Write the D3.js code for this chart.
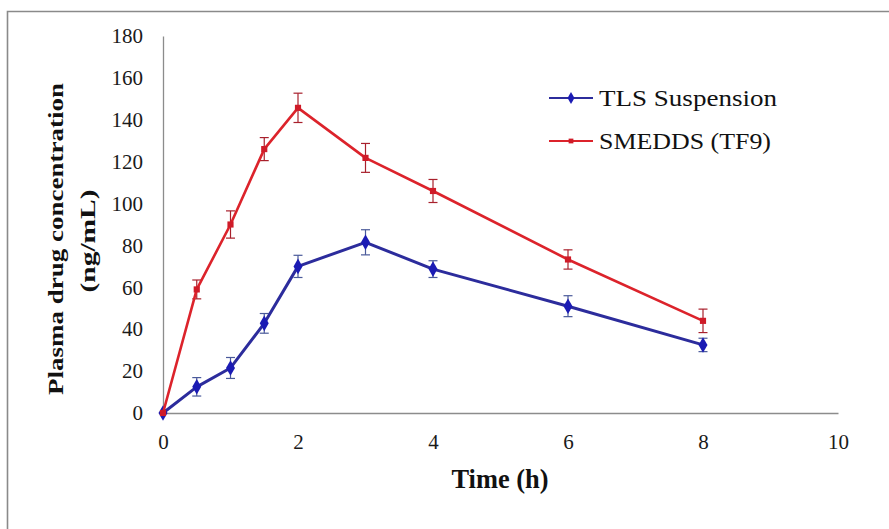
<!doctype html>
<html lang="en">
<head>
<meta charset="utf-8">
<style>
body { margin: 0; background: #fff; }
svg { display: block; font-family: "Liberation Serif", "Times New Roman", Times, serif; }
.axis path { stroke: #8c8c8c; stroke-width: 1.3; }
</style>
<script src="https://d3js.org/d3.v7.min.js"></script>
</head>
<body>
<svg width="889" height="529"></svg>
<script>
// sampling times (h)
const time = [0, 0.5, 1, 1.5, 2, 3, 4, 6, 8];
// plasma concentration (ng/mL)
const tls = [0, 12.5, 21.5, 42.8, 70, 81.5, 68.7, 51, 32.5];
const tlsErr = [0, 4.4, 5, 4.7, 5.3, 6, 4, 5, 3.2];
const smedds = [0, 59, 90, 126, 145.7, 121.8, 106, 73.3, 44];
const smeddsErr = [0, 4.5, 6.5, 5.5, 7, 6.9, 5.5, 4.6, 5.6];
const xTicks = [0, 2, 4, 6, 8, 10];
const yTicks = [0, 20, 40, 60, 80, 100, 120, 140, 160, 180];

const FONT = '"Liberation Serif", "Times New Roman", Times, serif';

const series = [
  { name: 'TLS Suspension', values: tls, err: tlsErr, line: '#2c2c9c', mark: '#1b1bb4', errColor: '#4a5a9a', symbol: d3.symbolDiamond, size: 70, width: 3, textLen: 178 },
  { name: 'SMEDDS (TF9)', values: smedds, err: smeddsErr, line: '#dc232b', mark: '#cf1b28', errColor: '#a8202c', symbol: d3.symbolSquare, size: 38, width: 2.6, textLen: 172 }
];

const svg = d3.select('svg');

// outer frame (top + left edges only visible)
svg.append('path')
  .attr('d', 'M7.5,529 L7.5,11.5 L889,11.5')
  .attr('fill', 'none')
  .attr('stroke', '#8a8a8a')
  .attr('stroke-width', 1.6);

const x = d3.scaleLinear().domain([0, 10]).range([163, 838]);
const y = d3.scaleLinear().domain([0, 180]).range([413, 36]);

const styleTicks = g => g
  .attr('font-family', FONT)
  .attr('font-size', 21)
  .call(gg => gg.selectAll('text').attr('fill', '#1a1a1a'));

svg.append('g')
  .attr('class', 'axis')
  .attr('transform', `translate(0, ${y(0)})`)
  .call(d3.axisBottom(x).tickValues(xTicks).tickSize(0).tickPadding(21).tickFormat(d3.format('d')))
  .call(styleTicks);

svg.append('g')
  .attr('class', 'axis')
  .attr('transform', `translate(${x(0)}, 0)`)
  .call(d3.axisLeft(y).tickValues(yTicks).tickSize(0).tickPadding(20).tickFormat(d3.format('d')))
  .call(styleTicks);

const line = d3.line()
  .x((d, i) => x(time[i]))
  .y(d => y(d));

series.forEach(s => {
  const g = svg.append('g');
  // error bars
  const eb = g.selectAll('.eb')
    .data(s.values.map((v, i) => ({ t: time[i], v: v, e: s.err[i] })).filter(d => d.e > 0))
    .enter().append('g')
    .attr('stroke', s.errColor)
    .attr('stroke-width', 1.2);
  eb.append('line')
    .attr('x1', d => x(d.t)).attr('x2', d => x(d.t))
    .attr('y1', d => y(d.v + d.e)).attr('y2', d => y(d.v - d.e));
  eb.append('line')
    .attr('x1', d => x(d.t) - 4.5).attr('x2', d => x(d.t) + 4.5)
    .attr('y1', d => y(d.v + d.e)).attr('y2', d => y(d.v + d.e));
  eb.append('line')
    .attr('x1', d => x(d.t) - 4.5).attr('x2', d => x(d.t) + 4.5)
    .attr('y1', d => y(d.v - d.e)).attr('y2', d => y(d.v - d.e));

  g.append('path')
    .attr('d', line(s.values))
    .attr('fill', 'none')
    .attr('stroke', s.line)
    .attr('stroke-width', s.width)
    .attr('stroke-linejoin', 'round');

  g.selectAll('.pt')
    .data(s.values)
    .enter().append('path')
    .attr('transform', (d, i) => `translate(${x(time[i])}, ${y(d)})`)
    .attr('d', d3.symbol().type(s.symbol).size(s.size))
    .attr('fill', s.mark);
});

// legend
const legend = svg.append('g');
series.forEach((s, i) => {
  const ly = 98 + i * 43;
  legend.append('line')
    .attr('x1', 549).attr('x2', 593)
    .attr('y1', ly).attr('y2', ly)
    .attr('stroke', s.line).attr('stroke-width', 2.2);
  legend.append('path')
    .attr('transform', `translate(571, ${ly})`)
    .attr('d', d3.symbol().type(s.symbol).size(s.size * 0.6))
    .attr('fill', s.mark);
  legend.append('text')
    .attr('x', 599)
    .attr('y', ly + 8)
    .attr('font-family', FONT)
    .attr('font-size', 23)
    .attr('fill', '#111')
    .attr('textLength', s.textLen)
    .attr('lengthAdjust', 'spacingAndGlyphs')
    .text(s.name);
});

// axis titles
svg.append('text')
  .attr('x', 500)
  .attr('y', 488)
  .attr('text-anchor', 'middle')
  .attr('font-family', FONT)
  .attr('font-weight', 'bold')
  .attr('font-size', 27)
  .attr('fill', '#111')
  .attr('textLength', 97)
  .attr('lengthAdjust', 'spacingAndGlyphs')
  .text('Time (h)');

svg.append('text')
  .attr('transform', 'translate(63, 239) rotate(-90)')
  .attr('text-anchor', 'middle')
  .attr('font-family', FONT)
  .attr('font-weight', 'bold')
  .attr('font-size', 22)
  .attr('fill', '#111')
  .attr('textLength', 312)
  .attr('lengthAdjust', 'spacingAndGlyphs')
  .text('Plasma drug concentration');

svg.append('text')
  .attr('transform', 'translate(95, 241) rotate(-90)')
  .attr('text-anchor', 'middle')
  .attr('font-family', FONT)
  .attr('font-weight', 'bold')
  .attr('font-size', 22)
  .attr('fill', '#111')
  .attr('textLength', 103)
  .attr('lengthAdjust', 'spacingAndGlyphs')
  .text('(ng/mL)');
</script>
</body>
</html>
